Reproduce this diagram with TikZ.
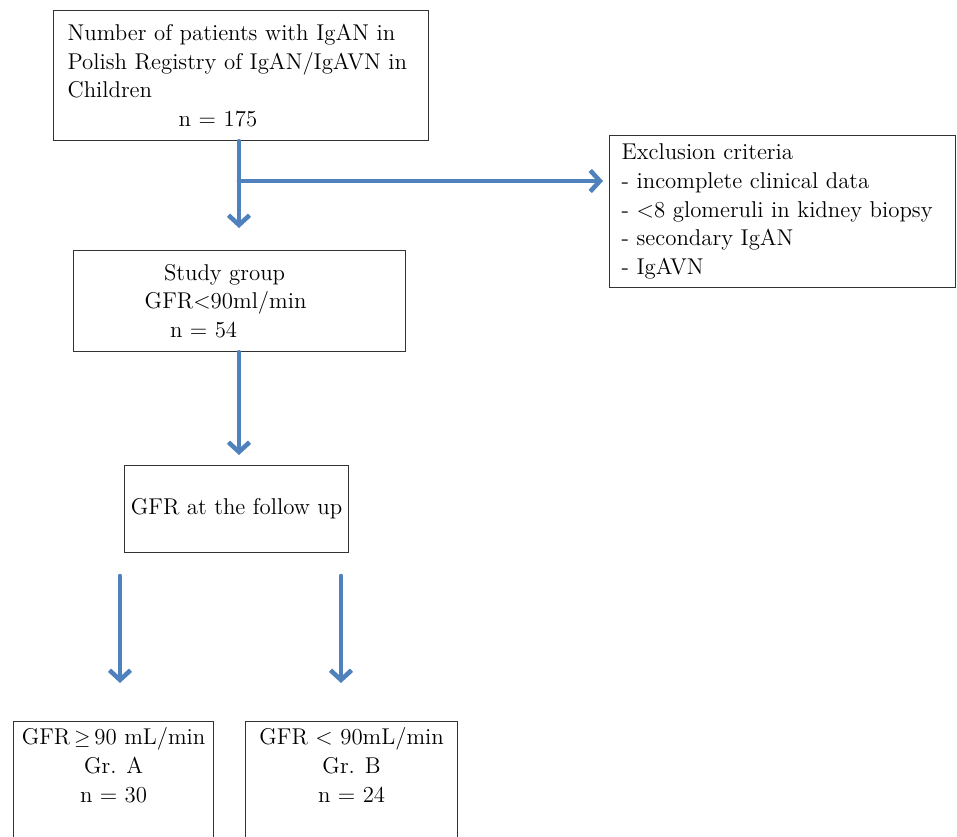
\documentclass[tikz,border=0pt]{standalone}
\usetikzlibrary{arrows.meta}
\definecolor{flowblue}{RGB}{79,129,189}
\tikzset{
  box/.style={draw=black!80, line width=0.7pt, rectangle, anchor=north west, inner sep=0pt},
  flow/.style={draw=flowblue, line width=2.6pt, line cap=round, -{Straight Barb[length=5.5pt,width=12pt]}}
}
\begin{document}
\begin{tikzpicture}[x=0.02cm,y=-0.02cm,font=\fontsize{13}{16.3}\selectfont]
	\useasboundingbox (0,0) rectangle (957,837);
	\clip (0,0) rectangle (957,837);
	% boxes
	\node[box, minimum width=7.5cm, minimum height=2.6cm, text width=6.94cm, align=left] (registry) at (53,10)
		{Number of patients with IgAN in\\ Polish Registry of IgAN/IgAVN in\\ Children\\ \hspace*{2.22cm}n = 175};
	\node[box, minimum width=6.92cm, minimum height=3.04cm, text width=6.44cm, align=left] (exclusion) at (609,135)
		{Exclusion criteria\\ - incomplete clinical data\\ - <8 glomeruli in kidney biopsy\\ - secondary IgAN\\ - IgAVN};
	\node[box, minimum width=6.64cm, minimum height=2.02cm, align=center] (study) at (73,250)
		{\hspace*{-0.6cm}Study group\\ \hspace*{-0.56cm}GFR<90ml/min\\ \hspace*{-1.44cm}n = 54};
	\node[box, minimum width=4.48cm, minimum height=1.74cm, align=center] (followup) at (124,465) {GFR at the follow up};
	\node[box, minimum width=4cm, minimum height=2.48cm, align=center] (grA) at (13,721)
		{GFR\,$\geq$\,90 mL/min\\ Gr. A\\ n = 30\\ \strut};
	\node[box, minimum width=4.24cm, minimum height=2.48cm, align=center] (grB) at (245,721)
		{GFR < 90mL/min\\ Gr. B\\ n = 24\\ \strut};
	% arrows
	\coordinate (split) at (239,181);
	\coordinate (toStudy) at (239,228);
	\coordinate (toExcl) at (603,181);
	\coordinate (toFollow) at (239,455);
	\draw[flow] (registry.south -| split) -- (toStudy);
	\draw[flow] (split) -- (toExcl);
	\draw[flow] (study.south -| toFollow) -- (toFollow);
	\coordinate (aTop) at (120,576); \coordinate (aEnd) at (120,683);
	\coordinate (bTop) at (341,576); \coordinate (bEnd) at (341,683);
	\draw[flow] (aTop) -- (aEnd);
	\draw[flow] (bTop) -- (bEnd);
\end{tikzpicture}
\end{document}
